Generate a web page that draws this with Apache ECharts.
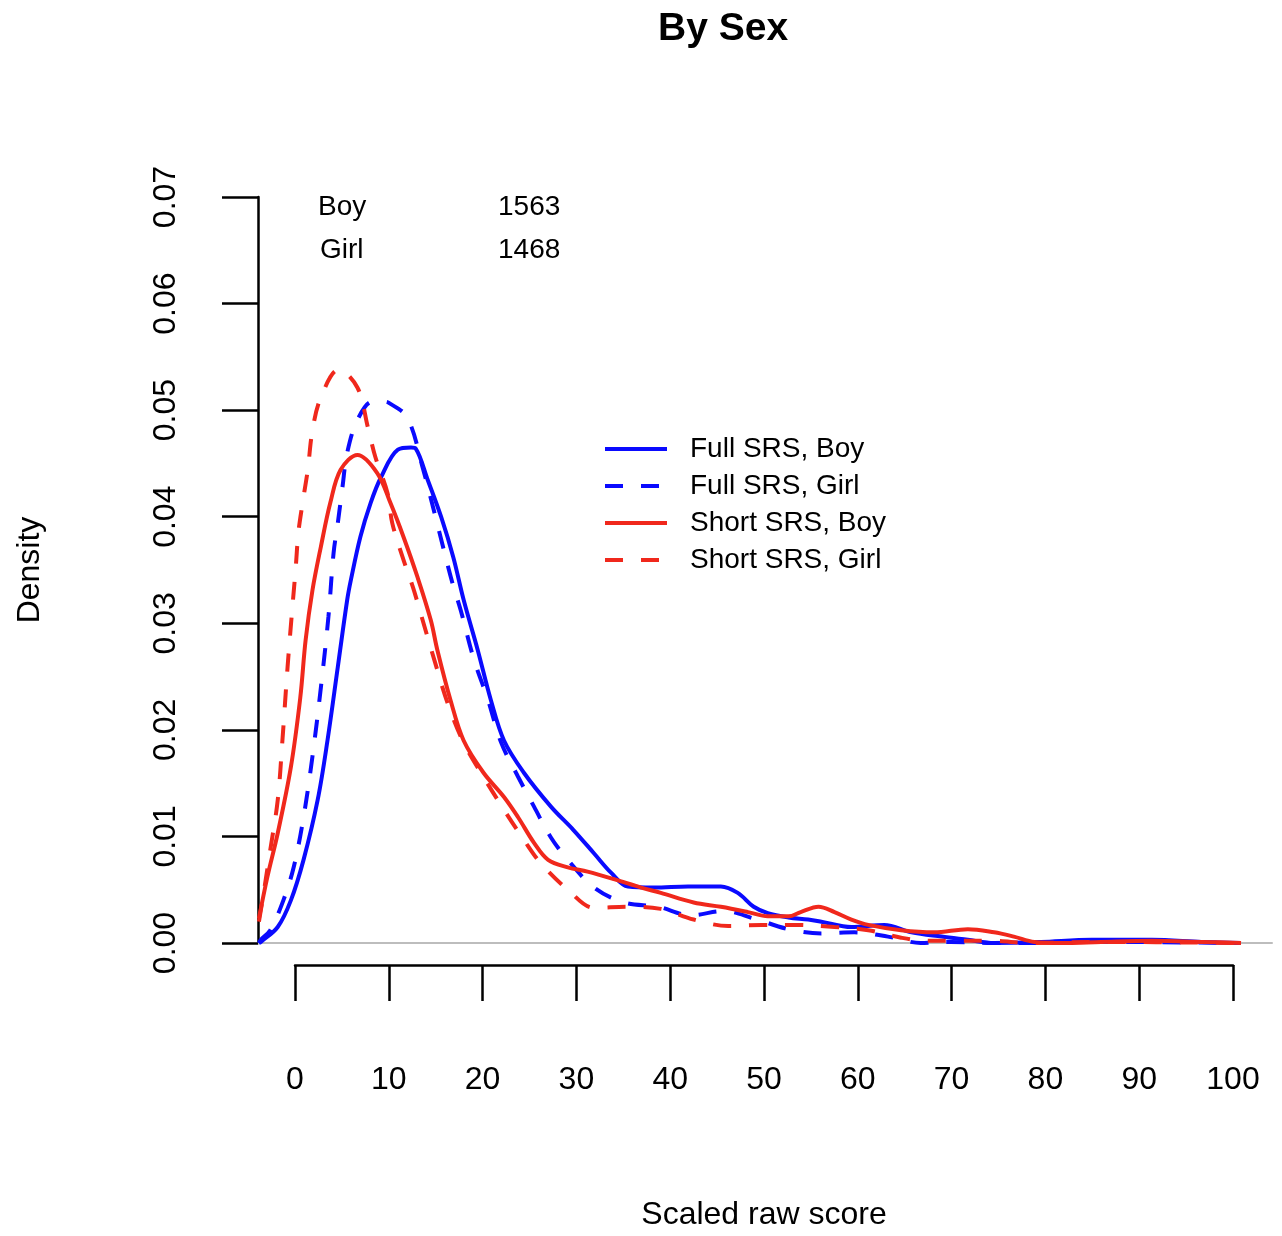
<!DOCTYPE html>
<html><head><meta charset="utf-8">
<script src="https://cdn.jsdelivr.net/npm/echarts@6/dist/echarts.min.js"></script>
<style>html,body{margin:0;padding:0;background:#fff}#chart{width:1282px;height:1236px}</style>
</head><body><div id="chart"></div>
<script>
const titleText = 'By Sex';
const xName = 'Scaled raw score';
const yName = 'Density';
const seriesNames = ['Full SRS, Boy', 'Full SRS, Girl', 'Short SRS, Boy', 'Short SRS, Girl'];
const groupNames = ['Boy', 'Girl'];
const groupCounts = ['1563', '1468'];

const xFullBoy = [-3.9,-3.7,-1.9,-0.5,0.85,2.35,3.4,4.5,5.5,5.9,6.9,8.0,9.1,10.9,12.3,12.8,14.1,15.5,16.8,17.9,19.4,20.8,22.2,24.3,27.2,29.6,31.8,33.6,35.4,38.2,41.8,45.3,47.1,48.8,50.3,52.5,54.6,56.0,59.2,62.7,65.6,68.8,71.6,74.4,79.4,84.8,91.2,96.5,100.7];
const yFullBoy = [0,0.0001,0.0015,0.0040,0.0078,0.0134,0.0190,0.0259,0.0322,0.0341,0.0381,0.0413,0.0437,0.0463,0.0465,0.0464,0.0434,0.0400,0.0362,0.0322,0.0275,0.0228,0.0190,0.0160,0.0128,0.0106,0.0084,0.0066,0.0053,0.0052,0.0053,0.0053,0.0047,0.0034,0.0028,0.0024,0.0022,0.0020,0.0015,0.0017,0.0010,0.0006,0.0003,0.0000,0.0001,0.0003,0.0003,0.0001,0];

const xFullGirl = [-3.9,-3.7,-2.7,-1.3,-0.2,0.85,1.8,2.7,3.5,4.05,4.5,5.0,5.5,6.6,8.2,9.3,9.9,11.9,13.6,14.9,15.7,16.7,17.6,19.0,20.5,21.9,23.7,25.4,27.2,29.0,31.8,35.0,38.6,42.1,45.6,48.8,52.5,56.0,59.5,63.1,66.6,69.8,74.4,80.5,85.8,100.7];
const yFullGirl = [0,0.0003,0.0012,0.0040,0.0071,0.0118,0.0175,0.0240,0.0306,0.0366,0.0394,0.0428,0.0460,0.0491,0.0508,0.0508,0.0507,0.0493,0.0444,0.0400,0.0372,0.0338,0.0312,0.0266,0.0228,0.0188,0.0156,0.0128,0.0099,0.0078,0.0052,0.0038,0.0034,0.0026,0.0030,0.0023,0.0013,0.0009,0.0010,0.0006,0,0.0001,0,0,0.0001,0];

const xShortBoy = [-3.9,-3.0,-1.9,-0.5,0.5,1.07,1.8,2.7,3.7,4.8,6.6,8.7,10.1,11.5,13.0,14.4,15.1,16.5,17.9,20.0,22.2,23.7,25.4,26.9,29.0,31.1,33.9,36.8,38.9,42.4,45.3,48.2,50.3,52.5,53.8,55.7,57.4,59.2,61.0,64.5,68.0,71.6,74.4,76.5,78.7,81.6,85.8,91.2,96.5,100.7];
const yShortBoy = [0.0023,0.0062,0.0103,0.0165,0.0230,0.0284,0.0331,0.0372,0.0413,0.0444,0.0458,0.0441,0.0413,0.0381,0.0343,0.0303,0.0275,0.0228,0.0190,0.0160,0.0137,0.0118,0.0094,0.0078,0.0071,0.0067,0.0060,0.0052,0.0047,0.0038,0.0034,0.0029,0.0025,0.0025,0.0029,0.0034,0.0029,0.0022,0.0017,0.0012,0.0010,0.0013,0.0010,0.0006,0.0001,0,0.0001,0.0002,0.0001,0];

const xShortGirl = [-3.9,-3.4,-2.7,-1.9,-1.4,-0.85,-0.3,0,0.3,0.75,1.3,1.8,2.7,4.6,6.6,7.7,8.5,9.8,10.3,11.4,12.5,13.3,14.7,16.2,17.9,20.0,22.2,24.3,26.1,29.0,31.8,35.4,38.9,42.4,46.1,49.6,53.1,57.4,61.0,64.5,67.4,70.9,74.4,78.0,85.8,100.7];
const yShortGirl = [0.0020,0.0047,0.0087,0.0134,0.0190,0.0259,0.0319,0.0350,0.0385,0.0413,0.0444,0.0481,0.0512,0.0538,0.0521,0.0484,0.0456,0.0422,0.0394,0.0362,0.0334,0.0310,0.0268,0.0225,0.0188,0.0156,0.0125,0.0097,0.0075,0.0050,0.0033,0.0034,0.0032,0.0022,0.0016,0.0017,0.0017,0.0015,0.0012,0.0005,0.0002,0.0002,0.0002,0,0.0001,0];

const xTicks = [0,10,20,30,40,50,60,70,80,90,100];
const yTicks = [0,0.01,0.02,0.03,0.04,0.05,0.06,0.07];

const BLUE = '#0a0aff', RED = '#f0281c';
const FONT = 'Liberation Sans, Arial, Helvetica, sans-serif';
const pairs = (xs, ys) => xs.map((x, i) => [x, ys[i]]);

const curves = [
  {name: seriesNames[0], data: pairs(xFullBoy, yFullBoy), color: BLUE, type: 'solid'},
  {name: seriesNames[1], data: pairs(xFullGirl, yFullGirl), color: BLUE, type: [18, 18]},
  {name: seriesNames[2], data: pairs(xShortBoy, yShortBoy), color: RED, type: 'solid'},
  {name: seriesNames[3], data: pairs(xShortGirl, yShortGirl), color: RED, type: [18, 18]}
];

const chart = echarts.init(document.getElementById('chart'), null, {renderer: 'canvas'});
chart.setOption({
  backgroundColor: '#fff',
  animation: false,
  textStyle: {fontFamily: FONT},
  title: {text: titleText, left: 653, top: 5, textStyle: {fontFamily: FONT, fontSize: 39, fontWeight: 'bold', color: '#000'}},
  legend: {
    orient: 'vertical', left: 603, top: 435, padding: 0,
    itemWidth: 62, itemHeight: 28, itemGap: 9,
    data: seriesNames,
    itemStyle: {opacity: 0},
    lineStyle: {width: 4},
    textStyle: {fontFamily: FONT, fontSize: 28, color: '#000', padding: [0, 0, 0, 18], lineHeight: 28}
  },
  grid: [
    {left: 258, right: 10, top: 197, bottom: 293, containLabel: false},
    {left: 295, right: 49, top: 197, bottom: 261, containLabel: false}
  ],
  xAxis: [
    {gridIndex: 0, type: 'value', min: -4, max: 104,
     axisLine: {show: true, onZero: false, lineStyle: {color: '#bdbdbd', width: 2}},
     axisTick: {show: false}, axisLabel: {show: false}, splitLine: {show: false}},
    {gridIndex: 1, type: 'value', min: 0, max: 100, interval: 10,
     name: xName, nameLocation: 'middle', nameGap: 234,
     nameTextStyle: {fontFamily: FONT, fontSize: 32, color: '#000'},
     axisLine: {show: true, onZero: false, lineStyle: {color: '#000', width: 2.5}},
     axisTick: {show: true, length: 36, lineStyle: {color: '#000', width: 2.5}},
     axisLabel: {show: true, margin: 99, fontFamily: FONT, fontSize: 32, color: '#000',
                 formatter: v => String(xTicks[xTicks.indexOf(v)] ?? v)},
     splitLine: {show: false}}
  ],
  yAxis: [
    {gridIndex: 0, type: 'value', min: 0, max: 0.07, interval: 0.01,
     name: yName, nameLocation: 'middle', nameGap: 212,
     nameTextStyle: {fontFamily: FONT, fontSize: 32, color: '#000'},
     axisLine: {show: true, onZero: false, lineStyle: {color: '#000', width: 2.5}},
     axisTick: {show: true, length: 36, lineStyle: {color: '#000', width: 2.5}},
     axisLabel: {show: true, rotate: 90, margin: 76, fontFamily: FONT, fontSize: 32, color: '#000',
                 formatter: v => { const t = yTicks.find(tt => Math.abs(tt - v) < 1e-9); return (t ?? v).toFixed(2); }},
     splitLine: {show: false}},
    {gridIndex: 1, type: 'value', show: false, min: 0, max: 1}
  ],
  graphic: [
    {type: 'text', left: 318, top: 193, style: {text: groupNames[0], font: '28px ' + FONT, fill: '#000'}},
    {type: 'text', left: 498, top: 193, style: {text: groupCounts[0], font: '28px ' + FONT, fill: '#000'}},
    {type: 'text', left: 320, top: 236, style: {text: groupNames[1], font: '28px ' + FONT, fill: '#000'}},
    {type: 'text', left: 498, top: 236, style: {text: groupCounts[1], font: '28px ' + FONT, fill: '#000'}}
  ],
  series: curves.map(c => ({
    name: c.name, type: 'line', xAxisIndex: 0, yAxisIndex: 0,
    data: c.data, symbol: 'none', smooth: 0.35,
    color: c.color,
    lineStyle: {color: c.color, width: 4, type: c.type},
    itemStyle: {color: c.color},
    z: 3
  }))
});
</script>
</body></html>
